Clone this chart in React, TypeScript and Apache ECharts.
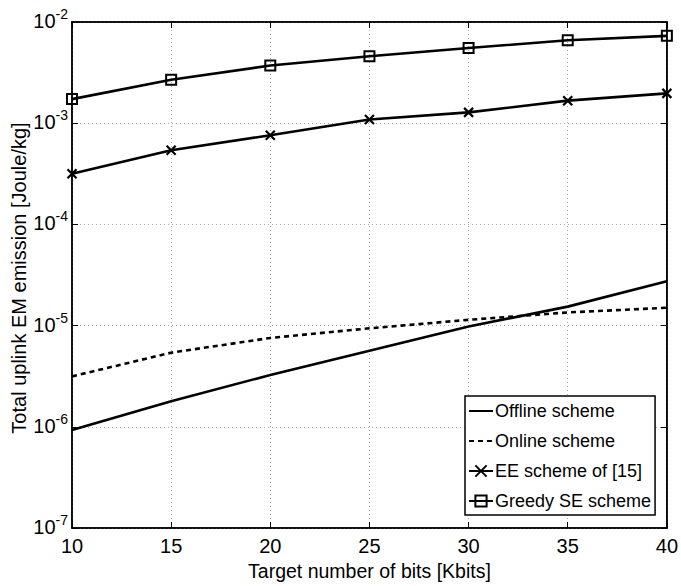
import React, { useEffect, useRef } from "react";
import * as echarts from "echarts";

const bits = [10, 15, 20, 25, 30, 35, 40];
const offlineScheme = [9.3e-7, 1.79e-6, 3.25e-6, 5.65e-6, 9.8e-6, 1.54e-5, 2.75e-5];
const onlineScheme = [3.15e-6, 5.4e-6, 7.55e-6, 9.4e-6, 1.14e-5, 1.35e-5, 1.5e-5];
const eeScheme = [3.16e-4, 5.4e-4, 7.6e-4, 1.087e-3, 1.28e-3, 1.67e-3, 1.97e-3];
const greedyScheme = [1.73e-3, 2.69e-3, 3.71e-3, 4.58e-3, 5.53e-3, 6.6e-3, 7.3e-3];
const seriesNames = ["Offline scheme", "Online scheme", "EE scheme of [15]", "Greedy SE scheme"];
const yTitle = "Total uplink EM emission [Joule/kg]";
const xTitle = "Target number of bits [Kbits]";

const FONT = "Liberation Sans, Arial, Helvetica, sans-serif";

function pairs(ys: number[]) {
  return bits.map((x, i) => [x, ys[i]]);
}

export default function App() {
  const ref = useRef<HTMLDivElement>(null);
  useEffect(() => {
    if (!ref.current) return;
    const chart = echarts.init(ref.current, undefined, { renderer: "svg" });
    const grid = { left: 72, top: 22, width: 597, height: 512 };
    const tickStyle = { show: true, inside: true, length: 6, lineStyle: { color: "#000", width: 1 } };
    const gridLine = { show: true, lineStyle: { color: "#aaa", type: [1, 3] as any, width: 1 } };
    const lineBase = { color: "#000", width: 2.6 };
    const hiddenSymbol = "path://M0,0L1,0L1,1L0,1Z";
    const option: any = {
      animation: false,
      backgroundColor: "#fff",
      textStyle: { fontFamily: FONT },
      grid: { ...grid, show: true, borderColor: "#000", borderWidth: 1.5, backgroundColor: "transparent" },
      graphic: [
        {
          type: "text",
          x: 19,
          y: 278,
          rotation: Math.PI / 2,
          style: {
            text: yTitle,
            fontFamily: FONT,
            fontSize: 20,
            fill: "#000",
            align: "center",
            verticalAlign: "middle",
          },
        },
      ],
      legend: {
        data: seriesNames,
        orient: "vertical",
        left: 465,
        top: 396,
        padding: [6, 4, 5, 3],
        itemGap: 12,
        itemWidth: 24,
        itemHeight: 14,
        borderColor: "#000",
        borderWidth: 1.5,
        backgroundColor: "#fff",
        textStyle: { fontFamily: FONT, fontSize: 18, color: "#000", padding: [0, 0, 0, -3] },
      },
      xAxis: [
        {
          type: "value",
          min: 10,
          max: 40,
          interval: 5,
          name: xTitle,
          nameLocation: "middle",
          nameGap: 33,
          nameTextStyle: { fontFamily: FONT, fontSize: 19.5, color: "#000" },
          axisLine: { show: true, onZero: false, lineStyle: { color: "#000", width: 1.5 } },
          axisTick: tickStyle,
          axisLabel: { fontFamily: FONT, fontSize: 20, color: "#000", margin: 8 },
          splitLine: gridLine,
        },
        {
          type: "value",
          min: 10,
          max: 40,
          interval: 5,
          position: "top",
          axisLine: { show: true, onZero: false, lineStyle: { color: "#000", width: 1.5 } },
          axisTick: tickStyle,
          axisLabel: { show: false },
          splitLine: { show: false },
        },
      ],
      yAxis: [
        {
          type: "log",
          logBase: 10,
          min: 1e-7,
          max: 1e-2,
          axisLine: { show: true, onZero: false, lineStyle: { color: "#000", width: 1.5 } },
          axisTick: tickStyle,
          minorTick: { show: false },
          axisLabel: {
            margin: 4,
            formatter: (v: number) => {
              const e = Math.round(Math.log10(v));
              return `{b|10}{s|${e}}`;
            },
            rich: {
              b: { fontFamily: FONT, fontSize: 20, color: "#000", lineHeight: 30, padding: [0, 0, 6, 0], verticalAlign: "bottom" },
              s: { fontFamily: FONT, fontSize: 14, color: "#000", lineHeight: 14, verticalAlign: "top" },
            },
          },
          splitLine: gridLine,
        },
        {
          type: "log",
          logBase: 10,
          min: 1e-7,
          max: 1e-2,
          position: "right",
          axisLine: { show: true, onZero: false, lineStyle: { color: "#000", width: 1.5 } },
          axisTick: tickStyle,
          axisLabel: { show: false },
          splitLine: { show: false },
        },
      ],
      series: [
        {
          name: seriesNames[0],
          type: "line",
          data: pairs(offlineScheme),
          symbol: hiddenSymbol,
          showSymbol: false,
          lineStyle: { ...lineBase, type: "solid" },
          itemStyle: { color: "rgba(0,0,0,0)", borderWidth: 0 },
        },
        {
          name: seriesNames[1],
          type: "line",
          data: pairs(onlineScheme),
          symbol: hiddenSymbol,
          showSymbol: false,
          lineStyle: { ...lineBase, type: [5, 4] },
          itemStyle: { color: "rgba(0,0,0,0)", borderWidth: 0 },
        },
        {
          name: seriesNames[2],
          type: "line",
          data: pairs(eeScheme),
          symbol: "path://M0,0L10,10M0,10L10,0",
          symbolSize: 9,
          lineStyle: { ...lineBase, type: "solid" },
          itemStyle: { color: "#000", borderColor: "#000", borderWidth: 2.2 },
        },
        {
          name: seriesNames[3],
          type: "line",
          data: pairs(greedyScheme),
          symbol: "rect",
          symbolSize: 10,
          lineStyle: { ...lineBase, type: "solid" },
          itemStyle: { color: "none", borderColor: "#000", borderWidth: 2 },
        },
      ],
    };
    chart.setOption(option);
    return () => chart.dispose();
  }, []);
  return (
    <div
      ref={ref}
      style={{ position: "fixed", left: 0, top: 0, width: 681, height: 586, background: "#fff" }}
    />
  );
}
